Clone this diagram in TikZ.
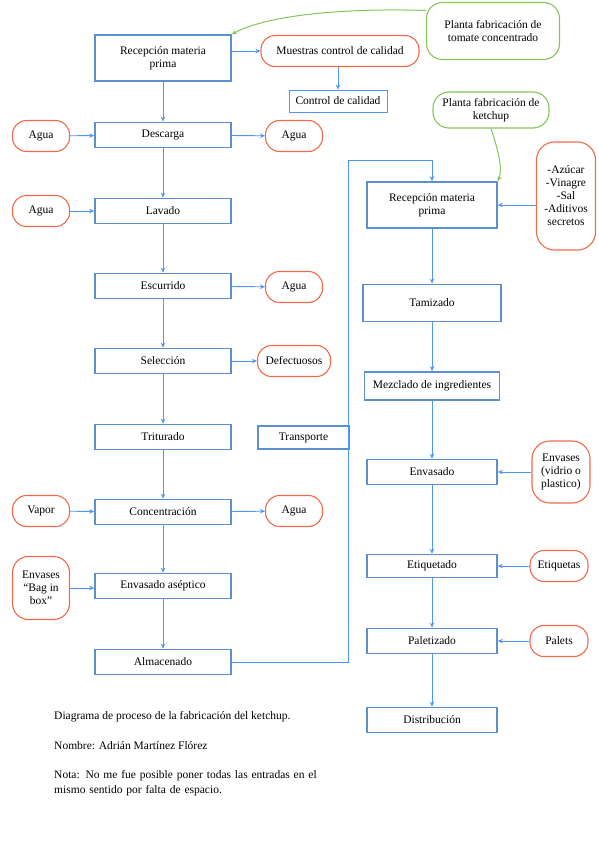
\documentclass[tikz,border=0pt]{standalone}
\usepackage{fontspec}
\setmainfont{Liberation Serif}
\usetikzlibrary{arrows.meta}
\definecolor{boxblue}{HTML}{5B8FD0}
\definecolor{arrblue}{HTML}{4F95FA}
\definecolor{ovred}{HTML}{F2694A}
\definecolor{ovgreen}{HTML}{86C45A}
\tikzset{
  proc/.style={draw=boxblue, line width=1.7pt, fill=white, minimum width=136pt, minimum height=25pt, inner sep=1pt, align=center, font=\fontsize{11.5}{13}\selectfont},
  procR/.style={proc, minimum width=130pt},
  thinbox/.style={draw=arrblue, line width=0.8pt, minimum height=22pt, inner sep=3pt, font=\fontsize{11.5}{13}\selectfont},
  oval/.style={draw=ovred, line width=1.1pt, rounded corners=14pt, minimum height=31pt, inner sep=2pt, align=center, font=\fontsize{11.5}{13}\selectfont},
  goval/.style={draw=ovgreen, line width=1.1pt, rounded corners=16pt, inner sep=3pt, align=center, font=\fontsize{11.5}{13}\selectfont},
  arr/.style={draw=arrblue, line width=0.9pt, -{Stealth[length=5pt,width=4.5pt]}},
  lin/.style={draw=arrblue, line width=0.9pt},
  garr/.style={draw=ovgreen, line width=1pt, -{Stealth[length=5pt,width=4.5pt]}},
  note/.style={anchor=west, inner sep=0, font=\fontsize{11.5}{15.5}\selectfont, align=left}
}
\begin{document}
\begin{tikzpicture}[x=1pt,y=-1pt]
\useasboundingbox (0,0) rectangle (599,848);
% left column
\node[proc, minimum height=46pt] (rec) at (163,58) {Recepción materia\\prima};
\node[proc] (des) at (163,135) {Descarga};
\node[proc] (lav) at (163,211) {Lavado};
\node[proc] (esc) at (163,286) {Escurrido};
\node[proc] (sel) at (163,361) {Selección};
\node[proc] (tri) at (163,437) {Triturado};
\node[proc] (con) at (163,512) {Concentración};
\node[proc] (env) at (163,586) {Envasado aséptico};
\node[proc] (alm) at (163,662) {Almacenado};
% left ovals
\node[oval, minimum width=57pt] (agua1) at (41,136) {Agua};
\node[oval, minimum width=57pt] (agua2) at (41,211) {Agua};
\node[oval, minimum width=57pt] (vap) at (41,511) {Vapor};
\node[oval, minimum width=57pt, minimum height=63pt, rounded corners=16pt] (bag) at (41,588) {Envases\\“Bag in\\box”};
% right of left column
\node[oval, minimum width=158pt] (mue) at (340,51) {Muestras control de calidad};
\node[thinbox, minimum width=98pt] (cc) at (338,101) {Control de calidad};
\node[oval, minimum width=57pt] (agua3) at (294,136) {Agua};
\node[oval, minimum width=57pt] (agua4) at (294,287) {Agua};
\node[oval, minimum width=73pt] (def) at (294,361) {Defectuosos};
\node[oval, minimum width=57pt] (agua5) at (294,511) {Agua};
\node[proc, minimum width=91pt, minimum height=23pt] (tra) at (303.5,437.5) {Transporte};
% green sources
\node[goval, minimum width=133pt, minimum height=57pt] (ptom) at (493,31) {Planta fabricación de\\tomate concentrado};
\node[goval, minimum width=116pt, minimum height=36pt] (pket) at (491,110) {Planta fabricación de\\ketchup};
% right column
\node[procR, minimum height=46pt] (rec2) at (432,205) {Recepción materia\\prima};
\node[procR, minimum width=138pt, minimum height=37pt] (tam) at (432,303) {Tamizado};
\node[procR, minimum width=135pt, minimum height=28pt] (mez) at (432,386) {Mezclado de ingredientes};
\node[procR] (envr) at (432,472) {Envasado};
\node[procR, minimum height=23pt] (eti) at (432,566) {Etiquetado};
\node[procR] (pal) at (432,641) {Paletizado};
\node[procR] (dis) at (432,720) {Distribución};
% right ovals
\node[oval, minimum width=59pt, minimum height=108pt, rounded corners=18pt] (ing) at (566,196) {-Azúcar\\-Vinagre\\-Sal\\-Aditivos\\secretos};
\node[oval, minimum width=58pt, minimum height=62pt, rounded corners=18pt] (envs) at (561,472) {Envases\\(vidrio o\\plastico)};
\node[oval, minimum width=58pt] (etis) at (559,566) {Etiquetas};
\node[oval, minimum width=58pt] (pals) at (559,641) {Palets};
% left column flow
\draw[arr] (rec) -- (des);
\draw[arr] (des) -- (lav);
\draw[arr] (lav) -- (esc);
\draw[arr] (esc) -- (sel);
\draw[arr] (sel) -- (tri);
\draw[arr] (tri) -- (con);
\draw[arr] (con) -- (env);
\draw[arr] (env) -- (alm);
\draw[arr] (rec.east |- mue) -- (mue);
\draw[arr] (cc.north |- mue.south) -- (cc);
\draw[arr] (agua1) -- (des);
\draw[arr] (agua2) -- (lav);
\draw[arr] (vap) -- (con);
\draw[arr] (bag) -- (env.west |- bag);
\draw[arr] (des) -- (agua3);
\draw[arr] (esc) -- (agua4);
\draw[arr] (sel) -- (def);
\draw[arr] (con) -- (agua5);
% transport link
\coordinate (c1) at (348,662);
\coordinate (c2) at (348,160);
\coordinate (c3) at (432,160);
\draw[lin] (alm) -- (c1) -- (c2) -- (c3);
\draw[arr] (c3) -- (rec2);
% right column flow
\draw[arr] (rec2) -- (tam);
\draw[arr] (tam) -- (mez);
\draw[arr] (mez) -- (envr);
\draw[arr] (envr) -- (eti);
\draw[arr] (eti) -- (pal);
\draw[arr] (pal) -- (dis);
\draw[arr] (ing.west |- rec2) -- (rec2);
\draw[arr] (envs) -- (envr);
\draw[arr] (etis) -- (eti);
\draw[arr] (pals) -- (pal);
% green arrows
\draw[garr] (ptom.163) .. controls (350,8) and (270,14) .. (rec.north east);
\draw[garr] (pket.south) .. controls (498,150) and (503,168) .. (rec2.north east);
% notes
\node[note] (n1) at (54,717) {Diagrama de proceso de la fabricación del ketchup.};
\node[note] (n2) at (54,746) {Nombre: Adrián Martínez Flórez};
\node[note, text width=300pt] (n3) at (54,783) {Nota: No me fue posible poner todas las entradas en el\\mismo sentido por falta de espacio.};
\end{tikzpicture}
\end{document}
